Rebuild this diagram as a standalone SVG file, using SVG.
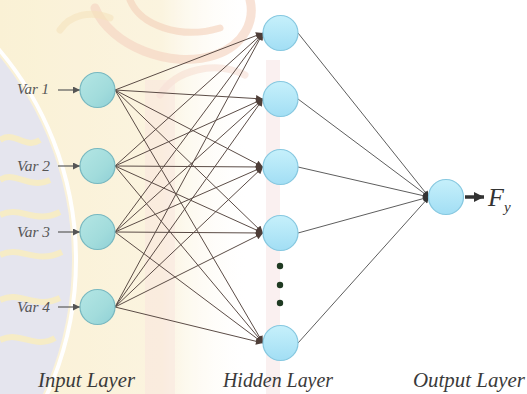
<svg xmlns="http://www.w3.org/2000/svg" width="527" height="394" viewBox="0 0 527 394">
<defs>
<style>
.e{stroke:#5b4c46;stroke-width:1;fill:none;marker-end:url(#ah)}
.h{stroke:#5e5e5e;stroke-width:1;fill:none;marker-end:url(#ah2)}
.in{stroke:#5a5a5a;stroke-width:1.2;fill:none;marker-end:url(#ah3)}
.ni{fill:url(#gi);stroke:#78b8c0;stroke-width:1.2}
.nh{fill:url(#gh);stroke:#86c8e0;stroke-width:1.2}
.var{font-family:"Liberation Serif","DejaVu Serif",serif;font-style:italic;font-size:15px;fill:#555}
.lay{font-family:"Liberation Serif","DejaVu Serif",serif;font-style:italic;font-size:20px;fill:#3a3a3a}
.dot{fill:#1f3a22}
</style>
<linearGradient id="gi" x1="0" y1="0" x2="1" y2="1">
<stop offset="0" stop-color="#b4e6e4"/><stop offset="0.6" stop-color="#a2dcdc"/><stop offset="1" stop-color="#8fd0d6"/>
</linearGradient>
<linearGradient id="gh" x1="0" y1="0" x2="0" y2="1">
<stop offset="0" stop-color="#c6f0fb"/><stop offset="1" stop-color="#a2def4"/>
</linearGradient>
<linearGradient id="gy" x1="0" y1="0" x2="1" y2="0">
<stop offset="0" stop-color="#faeecb"/><stop offset="0.65" stop-color="#fbf2d8"/><stop offset="1" stop-color="#ffffff" stop-opacity="0"/>
</linearGradient>
<marker id="ah" viewBox="0 0 10 10" refX="10" refY="5" markerWidth="9" markerHeight="7" markerUnits="userSpaceOnUse" orient="auto"><path d="M0,0 L10,5 L0,10 z" fill="#4e3e38"/></marker>
<marker id="ah2" viewBox="0 0 10 10" refX="10" refY="5" markerWidth="8" markerHeight="6" markerUnits="userSpaceOnUse" orient="auto"><path d="M0,0 L10,5 L0,10 z" fill="#333"/></marker>
<marker id="ah3" viewBox="0 0 10 10" refX="10" refY="5" markerWidth="8" markerHeight="7" markerUnits="userSpaceOnUse" orient="auto"><path d="M0,0 L10,5 L0,10 z" fill="#555"/></marker>
<marker id="ah4" viewBox="0 0 10 10" refX="10" refY="5" markerWidth="10" markerHeight="10" markerUnits="userSpaceOnUse" orient="auto"><path d="M0,0 L10,5 L0,10 z" fill="#333"/></marker>
</defs>
<rect width="527" height="394" fill="#ffffff"/>
<g id="watermark" opacity="0.8">
<rect x="0" y="0" width="250" height="394" fill="url(#gy)"/>
<g fill="none" stroke-linecap="round">
<path d="M95,8 C110,45 170,70 215,55 C245,45 255,20 250,0" stroke="#f3cdb6" stroke-width="9" opacity="0.7"/>
<path d="M130,0 C140,25 180,40 220,28" stroke="#f1c4a8" stroke-width="7" opacity="0.6"/>
<path d="M160,95 C175,70 215,60 245,75" stroke="#f3d0c0" stroke-width="7" opacity="0.5"/>
<path d="M60,30 C70,15 90,10 110,18" stroke="#f4dcae" stroke-width="7" opacity="0.6"/>
</g>
<rect x="145" y="80" width="30" height="314" fill="#f7dcd8" opacity="0.45"/>
<rect x="266" y="60" width="14" height="334" fill="#f6dede" opacity="0.55"/>
<circle cx="-250" cy="260" r="322" fill="#dfdfeb"/>
<circle cx="-250" cy="260" r="326" fill="none" stroke="#ffffff" stroke-width="4"/>
<g stroke="#f4e8b8" stroke-width="6" fill="none">
<path d="M0,140 C15,130 25,150 40,140"/>
<path d="M0,180 C15,170 30,190 50,180"/>
<path d="M0,215 C20,205 35,225 60,212"/>
<path d="M0,255 C20,245 35,265 62,252"/>
<path d="M0,300 C20,290 35,310 60,298"/>
<path d="M0,340 C20,330 35,350 55,338"/>
</g>
</g>
<g id="connectors">
<path class="in" d="M58,90 H80"/>
<path class="in" d="M58,166 H80"/>
<path class="in" d="M58,232 H80"/>
<path class="in" d="M58,307 H80"/>
<path class="e" d="M115,90 L263,33"/><path class="e" d="M115,90 L263,99"/><path class="e" d="M115,90 L263,167"/><path class="e" d="M115,90 L263,233"/><path class="e" d="M115,90 L263,343"/>
<path class="e" d="M115,166 L263,33"/><path class="e" d="M115,166 L263,99"/><path class="e" d="M115,166 L263,167"/><path class="e" d="M115,166 L263,233"/><path class="e" d="M115,166 L263,343"/>
<path class="e" d="M115,232 L263,33"/><path class="e" d="M115,232 L263,99"/><path class="e" d="M115,232 L263,167"/><path class="e" d="M115,232 L263,233"/><path class="e" d="M115,232 L263,343"/>
<path class="e" d="M115,307 L263,33"/><path class="e" d="M115,307 L263,99"/><path class="e" d="M115,307 L263,167"/><path class="e" d="M115,307 L263,233"/><path class="e" d="M115,307 L263,343"/>
<path class="h" d="M298,33 L429,197"/><path class="h" d="M298,99 L429,197"/><path class="h" d="M298,167 L429,197"/><path class="h" d="M298,233 L429,197"/><path class="h" d="M298,343 L429,197"/>
<path d="M465,197 H484" stroke="#333" stroke-width="3.5" fill="none" marker-end="url(#ah4)"/>
</g>
<g id="input1"><circle class="ni" cx="97.5" cy="90" r="17.5"/><text class="var" x="17" y="94" textLength="32" lengthAdjust="spacingAndGlyphs">Var 1</text></g>
<g id="input2"><circle class="ni" cx="97.5" cy="166" r="17.5"/><text class="var" x="17" y="171" textLength="33" lengthAdjust="spacingAndGlyphs">Var 2</text></g>
<g id="input3"><circle class="ni" cx="97.5" cy="232" r="17.5"/><text class="var" x="17" y="237" textLength="33" lengthAdjust="spacingAndGlyphs">Var 3</text></g>
<g id="input4"><circle class="ni" cx="97.5" cy="307" r="17.5"/><text class="var" x="17" y="312" textLength="33" lengthAdjust="spacingAndGlyphs">Var 4</text></g>
<g id="hidden1"><circle class="nh" cx="280.5" cy="33" r="17.5"/></g>
<g id="hidden2"><circle class="nh" cx="280.5" cy="99" r="17.5"/></g>
<g id="hidden3"><circle class="nh" cx="280.5" cy="167" r="17.5"/></g>
<g id="hidden4"><circle class="nh" cx="280.5" cy="233" r="17.5"/></g>
<g id="ellipsis"><circle class="dot" cx="280" cy="266" r="3.2"/><circle class="dot" cx="280" cy="285" r="3.2"/><circle class="dot" cx="280" cy="303" r="3.2"/></g>
<g id="hidden5"><circle class="nh" cx="280.5" cy="343" r="17.5"/></g>
<g id="output"><circle class="nh" cx="446" cy="197" r="17.5"/><text x="488" y="206" font-family="Liberation Serif, DejaVu Serif, serif" font-style="italic" font-size="26" fill="#333">F<tspan font-size="15" dy="6">y</tspan></text></g>
<g id="labels">
<text class="lay" x="38" y="387" textLength="97" lengthAdjust="spacingAndGlyphs">Input Layer</text>
<text class="lay" x="223" y="387" textLength="110" lengthAdjust="spacingAndGlyphs">Hidden Layer</text>
<text class="lay" x="413" y="387" textLength="112" lengthAdjust="spacingAndGlyphs">Output Layer</text>
</g>
</svg>
